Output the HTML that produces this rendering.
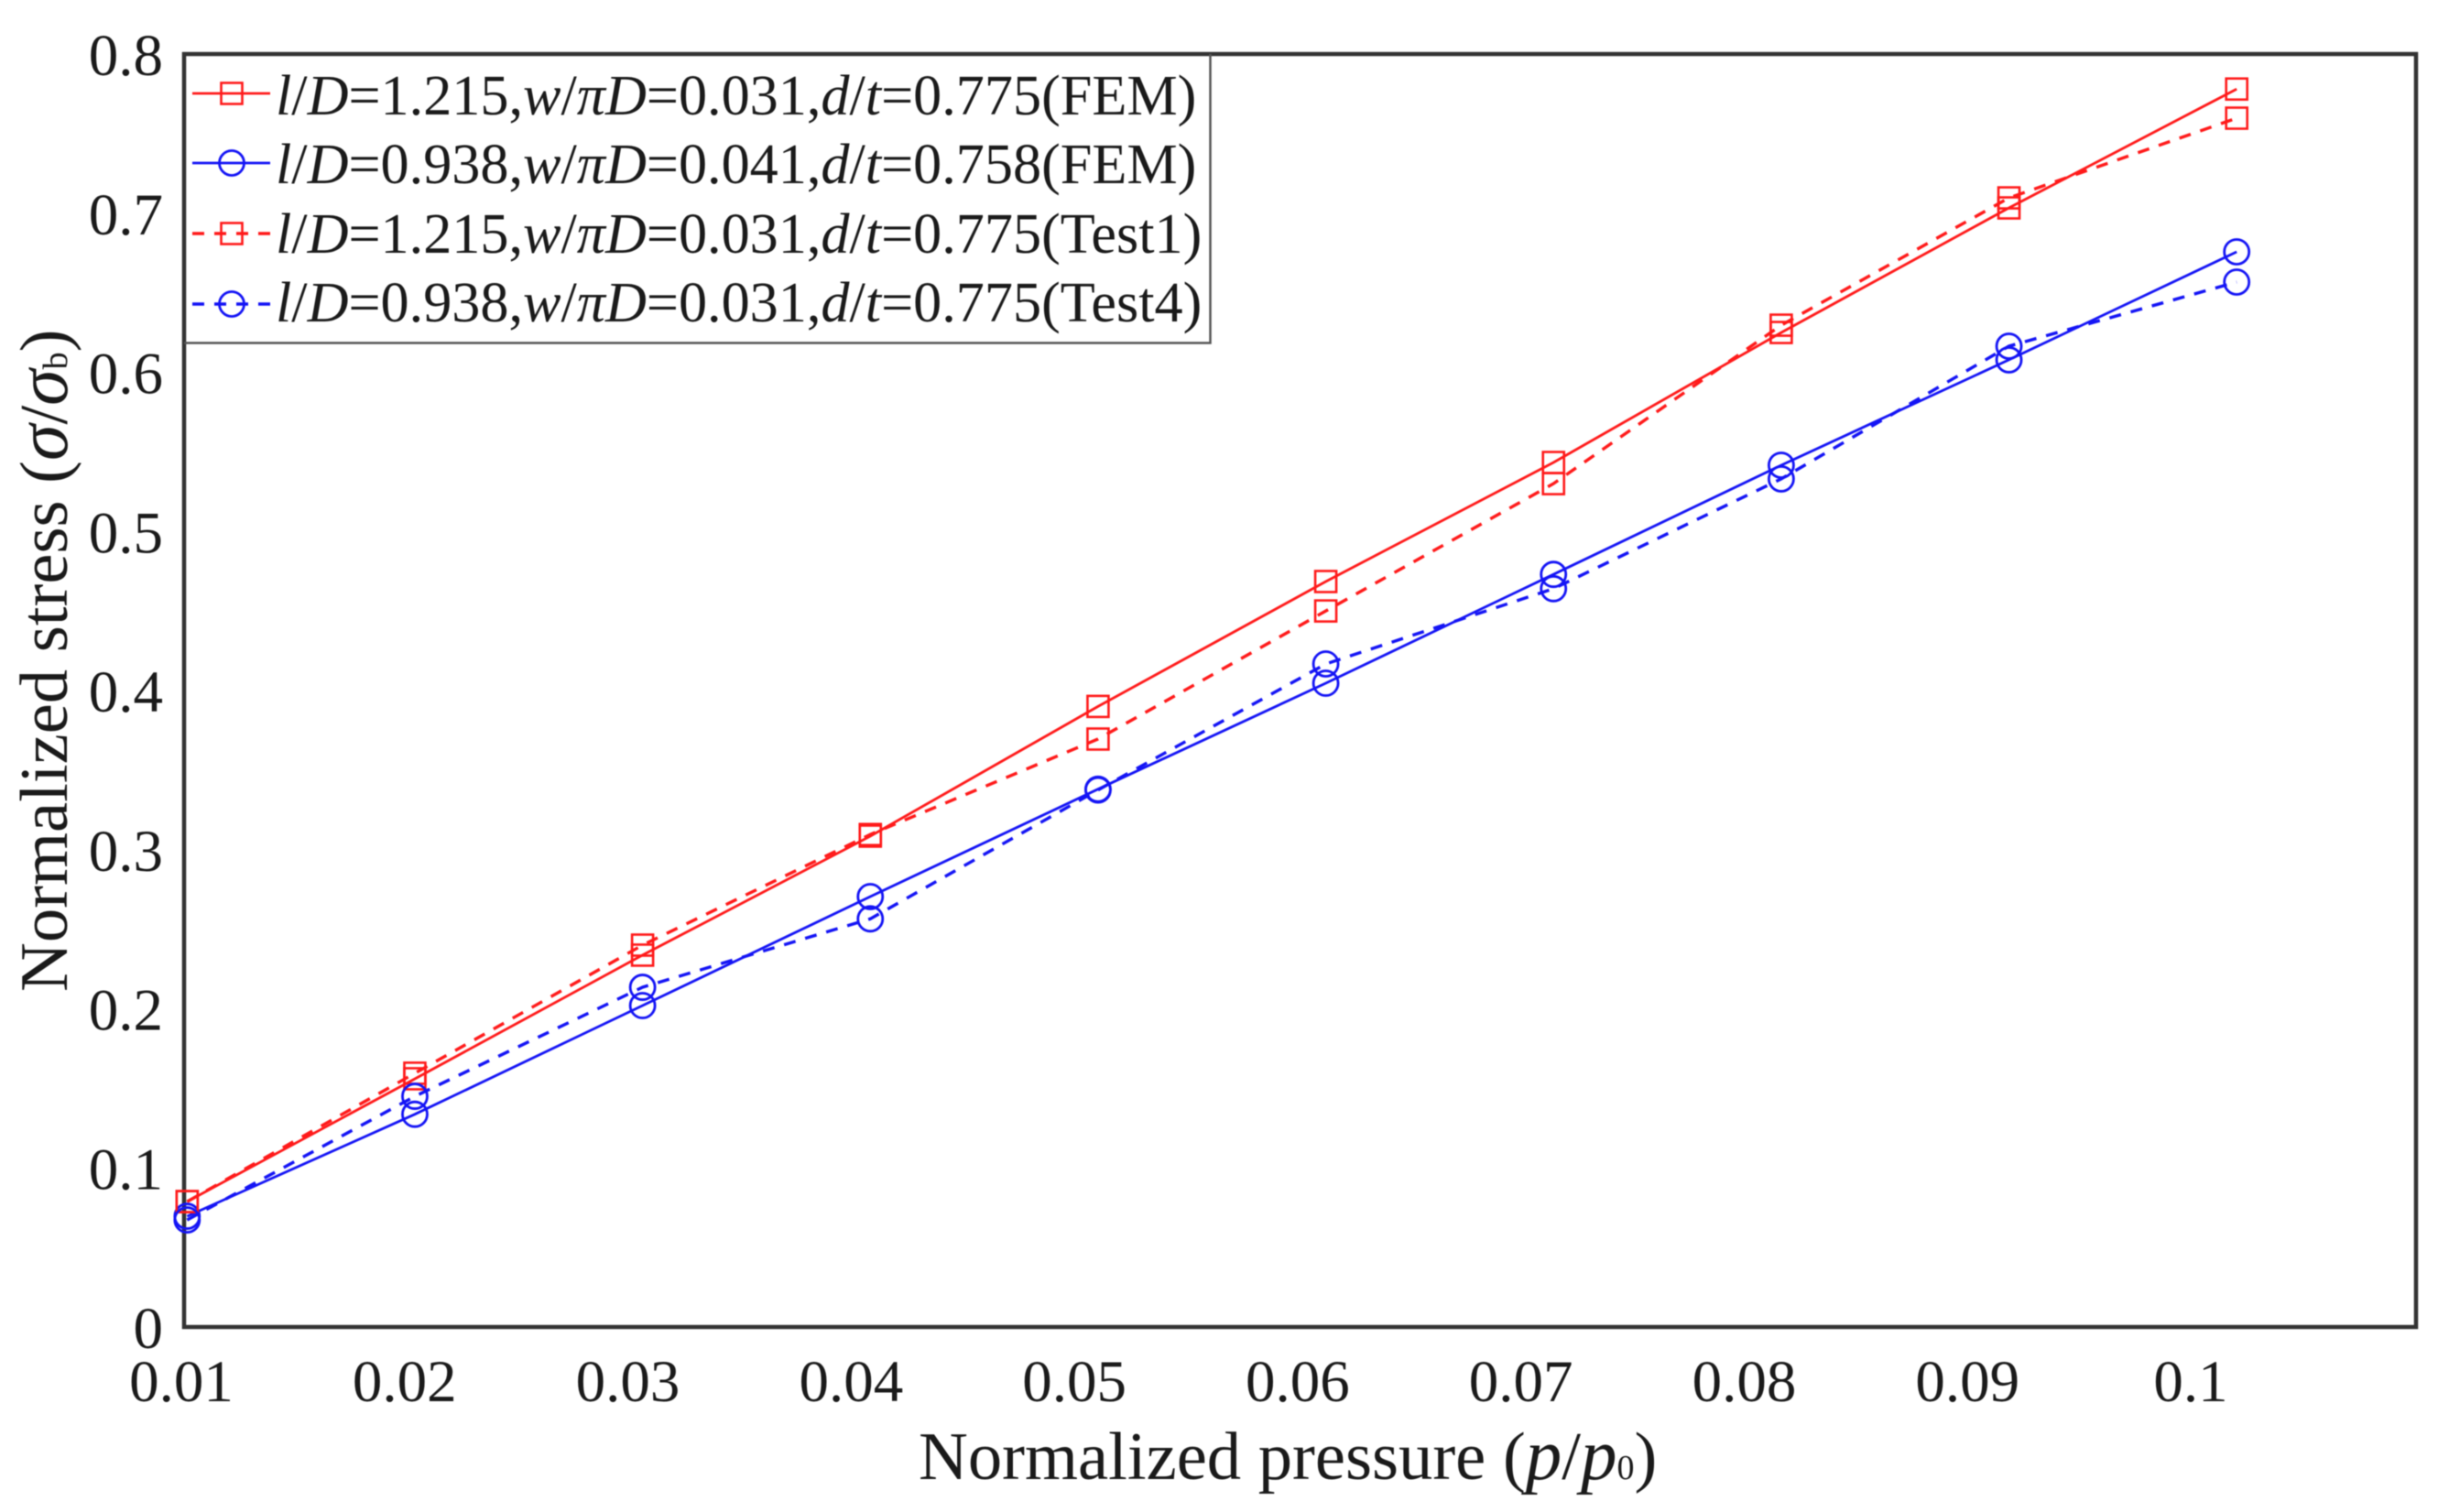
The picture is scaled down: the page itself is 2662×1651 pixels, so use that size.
<!DOCTYPE html>
<html lang="en">
<head>
<meta charset="utf-8">
<title>Normalized stress vs normalized pressure</title>
<style>
  html, body { margin: 0; padding: 0; background: #fff; }
  body { width: 2662px; height: 1651px; overflow: hidden; }
  svg { display: block; filter: blur(0.6px); }
  text { font-family: "Liberation Serif", "Times New Roman", serif; fill: #1a1a1a; }
  .i { font-style: italic; }
</style>
</head>
<body>
<svg id="chart" xmlns="http://www.w3.org/2000/svg" width="2662" height="1651" viewBox="0 0 2662 1651">
  <rect width="2662" height="1651" fill="#ffffff"/>
  <g id="x-ticks"></g>
  <g id="y-ticks"></g>
  <text x="1003" y="1615" font-size="74.6">Normalized pressure (<tspan class="i" font-size="79">p</tspan>/<tspan class="i" font-size="79">p</tspan><tspan font-size="38">0</tspan>)</text>
  <text transform="translate(73,1083) rotate(-90)" font-size="74.6">Normalized stress (<tspan class="i" font-size="80">σ</tspan>/<tspan class="i" font-size="80">σ</tspan><tspan font-size="38">b</tspan>)</text>
  <rect x="201" y="59" width="2437" height="1390" fill="none" stroke="#333333" stroke-width="4.5"/>
  <g id="series"></g>
  <g>
    <path d="M201 374.5H1321.5V59" fill="none" stroke="#555555" stroke-width="2.5"/>
    <g id="legend-samples"></g>
    <text x="301" y="125" font-size="62.2"><tspan class="i">l</tspan>/<tspan class="i">D</tspan>=1.215,<tspan class="i">w</tspan>/<tspan class="i">π</tspan><tspan class="i">D</tspan>=0.031,<tspan class="i">d</tspan>/<tspan class="i">t</tspan>=0.775(FEM)</text>
    <text x="301" y="200" font-size="62.2"><tspan class="i">l</tspan>/<tspan class="i">D</tspan>=0.938,<tspan class="i">w</tspan>/<tspan class="i">π</tspan><tspan class="i">D</tspan>=0.041,<tspan class="i">d</tspan>/<tspan class="i">t</tspan>=0.758(FEM)</text>
    <text x="301" y="276" font-size="62.2"><tspan class="i">l</tspan>/<tspan class="i">D</tspan>=1.215,<tspan class="i">w</tspan>/<tspan class="i">π</tspan><tspan class="i">D</tspan>=0.031,<tspan class="i">d</tspan>/<tspan class="i">t</tspan>=0.775(Test1)</text>
    <text x="301" y="351" font-size="62.2"><tspan class="i">l</tspan>/<tspan class="i">D</tspan>=0.938,<tspan class="i">w</tspan>/<tspan class="i">π</tspan><tspan class="i">D</tspan>=0.031,<tspan class="i">d</tspan>/<tspan class="i">t</tspan>=0.775(Test4)</text>
  </g>
</svg>
<script>
const pressure = [0.0103, 0.0205, 0.0307, 0.0409, 0.0511, 0.0613, 0.0715, 0.0817, 0.0919, 0.1021];
const femRed = [0.0788, 0.1560, 0.2337, 0.3085, 0.3900, 0.4685, 0.5433, 0.6250, 0.7033, 0.7780];
const femBlue = [0.0696, 0.1337, 0.2020, 0.2705, 0.3380, 0.4046, 0.4730, 0.5416, 0.6078, 0.6757];
const test1 = [0.0788, 0.1595, 0.2400, 0.3095, 0.3695, 0.4500, 0.5300, 0.6296, 0.7096, 0.7597];
const test4 = [0.0673, 0.1450, 0.2135, 0.2565, 0.3375, 0.4167, 0.4640, 0.5330, 0.6164, 0.6567];
const xTickValues = [0.01, 0.02, 0.03, 0.04, 0.05, 0.06, 0.07, 0.08, 0.09, 0.1];
const xTickLabels = ['0.01', '0.02', '0.03', '0.04', '0.05', '0.06', '0.07', '0.08', '0.09', '0.1'];
const yTickValues = [0, 0.1, 0.2, 0.3, 0.4, 0.5, 0.6, 0.7, 0.8];
const yTickLabels = ['0', '0.1', '0.2', '0.3', '0.4', '0.5', '0.6', '0.7', '0.8'];

const NS = 'http://www.w3.org/2000/svg';
const RED = '#ff1a1a';
const BLUE = '#1414f5';
const DASH = '13 11';
function xScale(v) { return 197 + (v - 0.01) / 0.09 * 2194; }
function yScale(v) { return 1449 - v / 0.8 * 1390; }
function make(tag, attrs, parent) {
  const el = document.createElementNS(NS, tag);
  for (const k in attrs) el.setAttribute(k, attrs[k]);
  parent.appendChild(el);
  return el;
}

const xg = document.getElementById('x-ticks');
xTickValues.forEach(function (v, i) {
  const t = make('text', { x: xScale(v) + 1, y: 1530, 'font-size': 65, 'text-anchor': 'middle' }, xg);
  
  
  t.textContent = xTickLabels[i];
});
const yg = document.getElementById('y-ticks');
yTickValues.forEach(function (v, i) {
  const t = make('text', { x: 178, y: yScale(v) + 23, 'font-size': 65, 'text-anchor': 'end' }, yg);
  
  
  t.textContent = yTickLabels[i];
});

function drawMarker(kind, cx, cy, color, parent) {
  let m;
  if (kind === 'square') {
    m = make('rect', { x: cx - 11.5, y: cy - 11.5, width: 23, height: 23, fill: 'none', stroke: color, 'stroke-width': 2.6 }, parent);
  } else {
    m = make('circle', { cx: cx, cy: cy, r: 13.5, fill: 'none', stroke: color, 'stroke-width': 2.8 }, parent);
  }
  
  
}

const seriesRoot = document.getElementById('series');
function drawSeries(values, kind, color, dash, name) {
  const g = make('g', {}, seriesRoot);
  
  
  const pts = values.map(function (v, i) { return xScale(pressure[i]).toFixed(1) + ',' + yScale(v).toFixed(1); }).join(' ');
  const line = make('polyline', { points: pts, fill: 'none', stroke: color, 'stroke-width': dash ? 3.4 : 2.8 }, g);
  if (dash) line.setAttribute('stroke-dasharray', dash);
  
  
  values.forEach(function (v, i) { drawMarker(kind, xScale(pressure[i]), yScale(v), color, g); });
}
drawSeries(femRed, 'square', RED, null, 'series-fem-red');
drawSeries(femBlue, 'circle', BLUE, null, 'series-fem-blue');
drawSeries(test1, 'square', RED, DASH, 'series-test1');
drawSeries(test4, 'circle', BLUE, DASH, 'series-test4');

const legendRoot = document.getElementById('legend-samples');
function drawSample(rowY, kind, color, dash) {
  const g = make('g', {}, legendRoot);
  
  
  const l = make('line', { x1: 210, x2: 295, y1: rowY, y2: rowY, stroke: color, 'stroke-width': dash ? 3.4 : 2.8 }, g);
  if (dash) l.setAttribute('stroke-dasharray', dash);
  
  
  drawMarker(kind, 253, rowY, color, g);
}
drawSample(102, 'square', RED, null);
drawSample(178, 'circle', BLUE, null);
drawSample(255, 'square', RED, DASH);
drawSample(332, 'circle', BLUE, DASH);
</script>
</body>
</html>
